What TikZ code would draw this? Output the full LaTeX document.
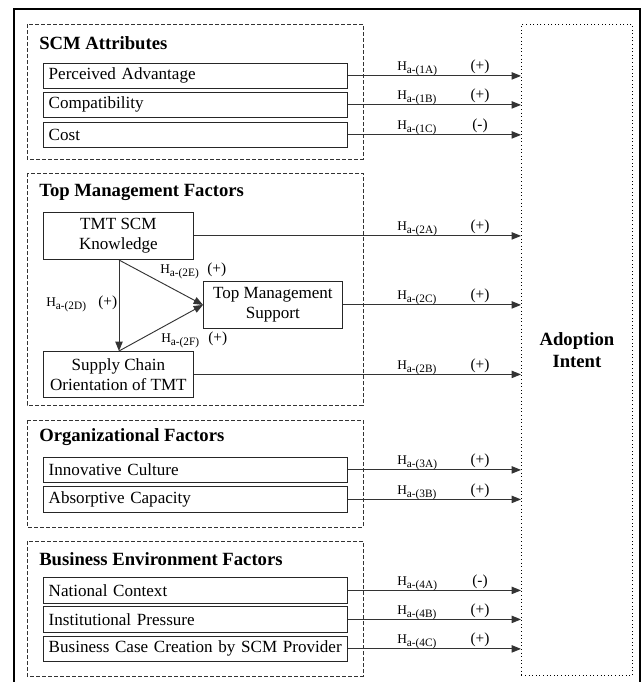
\documentclass[tikz,border=0pt]{standalone}
\usepackage{fontspec}
\setmainfont{Liberation Serif}
\usetikzlibrary{arrows.meta}
\begin{document}
\begin{tikzpicture}[x=0.75pt,y=-0.75pt,
  group/.style={draw=black!80,line width=0.6pt,dash pattern=on 3pt off 1.5pt},
  item/.style={draw=black!85,line width=0.6pt,anchor=north west,inner sep=0pt,
    font=\fontsize{12.8}{15}\selectfont},
  title/.style={anchor=west,inner sep=0pt,font=\fontsize{14}{16}\selectfont\bfseries},
  link/.style={draw=black!80,line width=0.7pt,-{Triangle[length=7pt,width=5.5pt]}},
  hyp/.style={inner sep=0pt,font=\fontsize{10}{12}\selectfont},
  sign/.style={inner sep=0pt,font=\fontsize{11.5}{13}\selectfont}]
\newcommand{\hsub}[1]{H\textsubscript{\fontsize{8.5}{9}\selectfont a-(#1)}}
\useasboundingbox (0,0) rectangle (643,682);
% outer frame, open at the bottom
\draw[line width=1.3pt] (14,690) -- (14,9) -- (640,9) -- (640,690);
% target construct
\node[draw,dotted,line width=0.7pt,minimum width=111*0.75pt,minimum height=651*0.75pt,
  inner sep=0pt,anchor=north west,align=center,
  font=\fontsize{14}{17}\selectfont\bfseries] (ai) at (521,24) {Adoption\\Intent};
% one-line item boxes, text flush left: name / top-left corner / text / width / height
\newcommand{\itemrow}[5]{\node[item,minimum width=#4*0.75pt,minimum height=#5*0.75pt,
  text width=#4*0.75pt-8pt,align=left] (#1) at #2 {\mbox{#3}};}
% two-line item boxes, text centred
\newcommand{\itemblock}[5]{\node[item,minimum width=#4*0.75pt,minimum height=#5*0.75pt,
  align=center] (#1) at #2 {#3};}
% SCM attributes
\draw[group] (27,24) rectangle (363,159);
\node[title] (t1) at (39,43) {SCM Attributes};
\itemrow{pa}{(43,63)}{Perceived Advantage}{304}{25}
\itemrow{co}{(43,92)}{Compatibility}{304}{25}
\itemrow{cs}{(43,122)}{Cost}{304}{25}
% top management factors
\draw[group] (27,173) rectangle (363,405);
\node[title] (t2) at (39,192) {Top Management Factors};
\itemblock{tk}{(43,212)}{TMT SCM\\Knowledge}{150}{47}
\itemblock{ts}{(203,281)}{Top Management\\Support}{139}{47}
\itemblock{so}{(43,351)}{Supply Chain\\Orientation of TMT}{150}{46}
% organizational factors
\draw[group] (27,420) rectangle (363,527);
\node[title] (t3) at (39,437) {Organizational Factors};
\itemrow{ic}{(43,457)}{Innovative Culture}{304}{25}
\itemrow{ac}{(43,486)}{Absorptive Capacity}{304}{26}
% business environment factors
\draw[group] (27,541) rectangle (363,676);
\node[title] (t4) at (39,559) {Business Environment Factors};
\itemrow{nc}{(43,577)}{National Context}{304}{26}
\itemrow{ip}{(43,606)}{Institutional Pressure}{304}{26}
\itemrow{bc}{(43,636)}{Business Case Creation by SCM Provider}{304}{25}
% columns of the path labels
\coordinate (hx) at (397,0);
\coordinate (sx) at (480,0);
% paths into adoption intent
\foreach \n/\h/\s in {pa/1A/(+),co/1B/(+),cs/1C/(-),tk/2A/(+),ts/2C/(+),so/2B/(+),
                      ic/3A/(+),ac/3B/(+),nc/4A/(-),ip/4B/(+),bc/4C/(+)}{
  \draw[link] (\n.east) -- (\n.east -| ai.west);
  \node[hyp,anchor=base west] at ([yshift=3.9pt]\n.east -| hx) {\hsub{\h}};
  \node[sign,anchor=base] at ([yshift=3.9pt]\n.east -| sx) {\s};
}
% relations inside top management factors
\coordinate (tkb) at (119,260);
\coordinate (sot) at (119,351);
\draw[link] (tkb) -- (sot);
\draw[link] (tkb) -- (ts.west);
\draw[link] (sot) -- (ts.west);
\node[hyp,anchor=base west] (h2d) at (46,306) {\hsub{2D}};
\node[sign,anchor=base west] (p2d) at (98,306) {(+)};
\node[hyp,anchor=base west] (h2e) at (160,273) {\hsub{2E}};
\node[sign,anchor=base west] (p2e) at (207,273) {(+)};
\node[hyp,anchor=base west] (h2f) at (161,342) {\hsub{2F}};
\node[sign,anchor=base west] (p2f) at (208,342) {(+)};
\end{tikzpicture}
\end{document}
